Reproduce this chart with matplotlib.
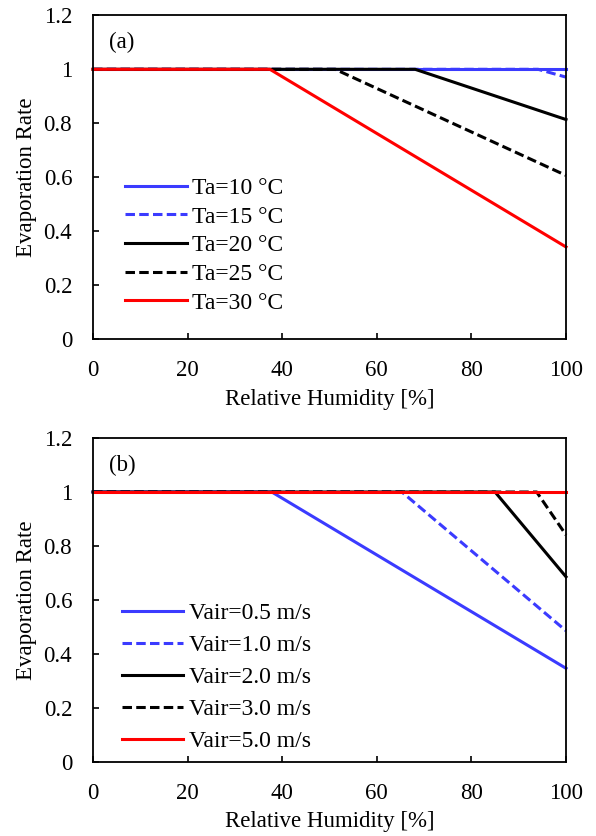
import matplotlib
matplotlib.use("Agg")
import matplotlib.pyplot as plt

plt.rcParams['font.family'] = ['Liberation Serif', 'DejaVu Serif']
plt.rcParams['font.size'] = 16.5

# panel (a): air temperature
ta_labels = ["Ta=10 \u00b0C", "Ta=15 \u00b0C", "Ta=20 \u00b0C", "Ta=25 \u00b0C", "Ta=30 \u00b0C"]
ta_x = [[0, 100], [0, 94.1, 100], [0, 68.1, 100], [0, 51.2, 100], [0, 37.4, 100]]
ta_y = [[1, 1], [1, 1, 0.971], [1, 1, 0.814], [1, 1, 0.607], [1, 1, 0.342]]

# panel (b): air velocity
va_labels = ["Vair=0.5 m/s", "Vair=1.0 m/s", "Vair=2.0 m/s", "Vair=3.0 m/s", "Vair=5.0 m/s"]
va_x = [[0, 37.8, 100], [0, 65.3, 100], [0, 85.0, 100], [0, 93.8, 100], [0, 100]]
va_y = [[1, 1, 0.347], [1, 1, 0.486], [1, 1, 0.686], [1, 1, 0.841], [1, 1]]

colors = ['#3b3bff', '#3b3bff', 'black', 'black', '#ff0000']
styles = ['-', '--', '-', '--', '-']

fig = plt.figure(figsize=(5.96, 8.36), dpi=100)
W, H = 596, 836
ax_a = fig.add_axes([93 / W, 1 - 339.3 / H, 473 / W, 324 / H])
ax_b = fig.add_axes([93 / W, 1 - 762 / H, 473 / W, 324 / H])


def panel(ax, xs, ys, labels, tag, leg_x, leg_y, spacing):
    for x, y, lab, c, ls in zip(xs, ys, labels, colors, styles):
        ax.plot(x, y, color=c, linestyle=ls, lw=2.2, label=lab,
                dashes=(3.1, 1.4) if ls == '--' else (None, None), clip_on=False)
    ax.set_xlim(0, 100)
    ax.set_ylim(0, 1.2)
    ax.set_xticks([0, 20, 40, 60, 80, 100])
    ax.set_yticks([0, 0.2, 0.4, 0.6, 0.8, 1.0, 1.2])
    ax.set_yticklabels(['0', '0.2', '0.4', '0.6', '0.8', '1', '1.2'])
    ax.tick_params(direction='in', length=4.5, width=1.2, pad=15)
    for s in ax.spines.values():
        s.set_linewidth(1.3)
    ax.set_xlabel('Relative Humidity [%]')
    ax.set_ylabel('Evaporation Rate')
    ax.xaxis.set_label_coords(0.5, -0.152)
    ax.yaxis.set_label_coords(-0.118, 0.5)
    ax.text(0.034, 0.915, tag, transform=ax.transAxes, va='center')
    ax.legend(loc='upper left', bbox_to_anchor=(leg_x, leg_y), frameon=False,
              borderaxespad=0, borderpad=0, fontsize=17,
              handlelength=2.6, handletextpad=0.25, labelspacing=spacing)


panel(ax_a, ta_x, ta_y, ta_labels, '(a)', 0.068, 0.499, 0.30)
panel(ax_b, va_x, va_y, va_labels, '(b)', 0.061, 0.492, 0.44)

fig.savefig('out.png', dpi=100)
